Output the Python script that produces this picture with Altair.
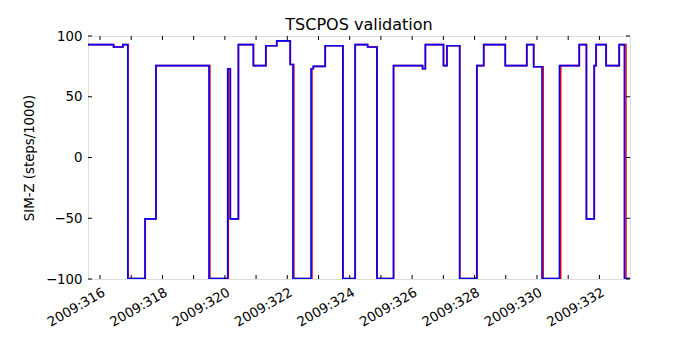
import altair as alt
import pandas as pd

# Day-of-year 2009 (fractional) and SIM-Z position (steps/1000)
blue_days = [315.615, 316.43, 316.73, 316.89, 317.44, 317.79, 319.49, 320.09, 320.17, 320.43,
             320.91, 321.31, 321.66, 322.09, 322.18, 322.76, 322.83, 323.21, 323.78, 324.17,
             324.57, 324.87, 325.40, 326.33, 326.42, 327.00, 327.11, 327.52, 328.07, 328.29,
             328.98, 329.67, 329.89, 330.16, 330.72, 331.35, 331.58, 331.83, 331.89, 332.21,
             332.63, 332.80, 332.98]
blue_vals = [92.9, 91.0, 92.9, -99.6, -50.5, 75.6, -99.6, 73.0, -50.5, 92.9,
             75.6, 92.0, 96.0, 76.5, -99.6, 73.0, 75.0, 92.0, -99.6, 92.9,
             91.0, -99.6, 75.6, 73.0, 92.9, 75.6, 92.0, -99.6, 75.6, 92.9,
             75.6, 92.9, 74.7, -99.6, 75.6, 92.9, -50.5, 75.6, 92.9, 75.6,
             92.9, -99.6, -99.6]

red_days = [315.615, 316.44, 316.74, 316.90, 317.45, 317.80, 319.52, 320.11, 320.18, 320.44,
            320.92, 321.32, 321.67, 322.10, 322.21, 322.79, 322.84, 323.22, 323.79, 324.18,
            324.58, 324.88, 325.41, 326.34, 326.43, 327.01, 327.12, 327.53, 328.08, 328.30,
            328.99, 329.68, 329.90, 330.20, 330.76, 331.36, 331.59, 331.84, 331.90, 332.22,
            332.64, 332.85, 332.98]
red_vals = [92.9, 91.0, 92.9, -99.6, -50.5, 75.6, -99.6, 73.0, -50.5, 92.9,
            75.6, 92.0, 96.0, 76.5, -99.6, 73.0, 75.0, 92.0, -99.6, 92.9,
            91.0, -99.6, 75.6, 73.0, 92.9, 75.6, 92.0, -99.6, 75.6, 92.9,
            75.6, 92.9, 74.7, -99.6, 75.6, 92.9, -50.5, 75.6, 92.9, 75.6,
            92.9, -99.6, -99.6]

x_ticks = list(range(316, 333))
y_ticks = [-100, -50, 0, 50, 100]

W, H = 542, 243
FONT = "DejaVu Sans"
FS = 13.3

blue_df = pd.DataFrame({"day": blue_days, "simz": blue_vals})
red_df = pd.DataFrame({"day": red_days, "simz": red_vals})
xt_df = pd.DataFrame({"day": x_ticks})
yt_df = pd.DataFrame({"simz": y_ticks})

xscale = alt.Scale(domain=[315.615, 332.98], nice=False, zero=False)
yscale = alt.Scale(domain=[-100, 100], nice=False, zero=False)

xaxis = alt.Axis(values=x_ticks, tickSize=0, domain=False, grid=False,
                 labelExpr="datum.value % 2 == 0 ? '2009:' + datum.value : ''",
                 labelAngle=-30, labelAlign="right", labelBaseline="top",
                 labelPadding=6, labelOverlap=False, labelFlush=False, labelBound=False,
                 title=None, labelFont=FONT, labelFontSize=FS, labelColor="black")
yaxis = alt.Axis(values=y_ticks, tickSize=0, domain=False, grid=False,
                 labelPadding=6, title="SIM-Z (steps/1000)", titleFont=FONT,
                 titleFontSize=FS, titleFontWeight="normal", titleColor="black",
                 titlePadding=9, labelFont=FONT, labelFontSize=FS, labelColor="black")

X = alt.X("day:Q", scale=xscale, axis=xaxis)
Y = alt.Y("simz:Q", scale=yscale, axis=yaxis)

red = alt.Chart(red_df).mark_line(interpolate="step-after", color="#ff0000",
                                  strokeWidth=1.6, clip=True).encode(x=X, y=Y)
blue = alt.Chart(blue_df).mark_line(interpolate="step-after", color="#0000ff",
                                    strokeWidth=1.6, clip=True).encode(x=X, y=Y)

tick_len = 4
xt_bottom = alt.Chart(xt_df).mark_rule(color="black", strokeWidth=1).encode(
    x=X, y=alt.value(H), y2=alt.value(H - tick_len))
xt_top = alt.Chart(xt_df).mark_rule(color="black", strokeWidth=1).encode(
    x=X, y=alt.value(0), y2=alt.value(tick_len))
yt_left = alt.Chart(yt_df).mark_rule(color="black", strokeWidth=1).encode(
    y=Y, x=alt.value(0), x2=alt.value(tick_len))
yt_right = alt.Chart(yt_df).mark_rule(color="black", strokeWidth=1).encode(
    y=Y, x=alt.value(W), x2=alt.value(W - tick_len))

chart = alt.layer(red, blue, xt_bottom, xt_top, yt_left, yt_right).properties(
    width=W, height=H,
    title=alt.TitleParams("TSCPOS validation", font=FONT, fontSize=16,
                          fontWeight="normal", color="black", anchor="middle", offset=-4),
    autosize=alt.AutoSizeParams(type="none"),
    padding={"left": 80, "top": 28, "right": 62, "bottom": 63},
).configure_view(stroke="black", strokeWidth=1.2).configure(background="white")

chart.save("out.html", embed_options={"renderer": "svg", "actions": False})
